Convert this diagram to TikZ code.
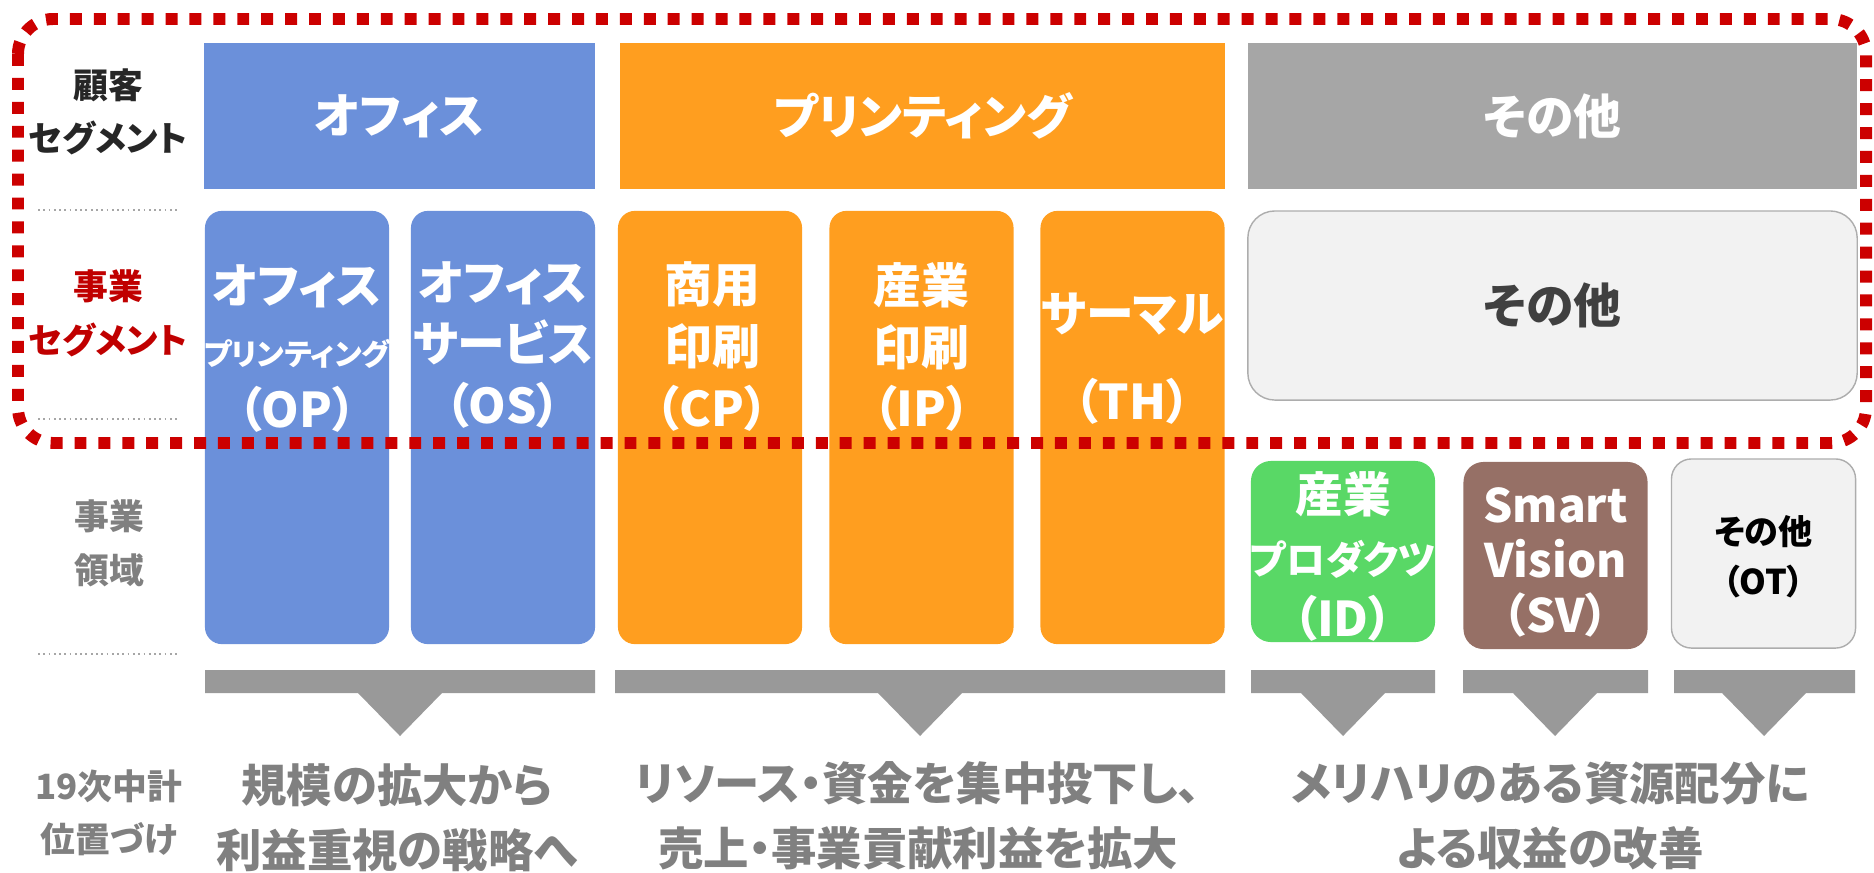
\documentclass[tikz,border=0pt]{standalone}
\usepackage{fontspec}
\setmainfont{Noto Sans CJK JP}[RawFeature=+palt]
\definecolor{officeblue}{HTML}{6B90DA}
\definecolor{printorange}{HTML}{FF9E1F}
\definecolor{othergrey}{HTML}{A6A6A6}
\definecolor{lightfill}{HTML}{F2F2F2}
\definecolor{lightline}{HTML}{ADADAD}
\definecolor{darktext}{HTML}{404040}
\definecolor{idgreen}{HTML}{59D866}
\definecolor{svbrown}{HTML}{967066}
\definecolor{bargrey}{HTML}{999999}
\definecolor{labelgrey}{HTML}{808080}
\definecolor{segred}{HTML}{C00000}
\definecolor{framered}{HTML}{CC0000}
\newcommand\bigfs{\bfseries\fontsize{13.6}{17.5}\selectfont}
\newcommand\smallfs{\bfseries\fontsize{8.5}{17.5}\selectfont}
\newcommand\midfs{\bfseries\fontsize{11.1}{17.5}\selectfont}
\newcommand\labelfs{\bfseries\fontsize{9.9}{15.2}\selectfont}
\newcommand\goalfs{\bfseries\fontsize{12.9}{18.5}\selectfont}

\begin{document}
\begin{tikzpicture}[x=0.01cm, y=-0.01cm]
    \tikzset{%
      custseg/.style={minimum height=1.46cm, inner sep=0pt, text=white, font=\bigfs},
      bizseg/.style={rounded corners=0.17cm, minimum width=1.84cm, minimum height=4.33cm, inner sep=0pt},
      bizarea/.style={rounded corners=0.2cm, minimum width=1.84cm, minimum height=1.85cm, inner sep=0pt},
      segtext/.style={align=center, text=white, font=\bigfs, inner sep=0pt},
      rowlabel/.style={align=center, font=\labelfs, inner sep=0pt},
      goal/.style={align=center, text=labelgrey, font=\goalfs, inner sep=0pt},
      sepline/.style={densely dotted, labelgrey!70, line width=0.5pt},
      wedge/.style={fill=bargrey},
      dotframe/.style={draw=framered, line width=3.4pt, dash pattern=on 3.4pt off 3.4pt, rounded corners=0.35cm}
      }
    \useasboundingbox (0,0) rectangle (1874,872);

    \node [rowlabel, text=black!85] (Lcust) at (108,112) {顧客\\セグメント};
    \node [rowlabel, text=segred] (Lseg) at (108,313.5) {事業\\セグメント};
    \node [rowlabel, text=labelgrey] (Larea) at (109,543.5) {事業\\領域};
    \node [rowlabel, text=labelgrey] (Lplan) at (109,812.5) {19次中計\\位置づけ};
    \foreach \yy in {210, 419, 654}
      \draw [sepline] (38,\yy) -- (179,\yy);

    \node [custseg, fill=officeblue, minimum width=3.91cm] (Coffice) at (399.5,116) {オフィス};
    \node [custseg, fill=printorange, minimum width=6.05cm] (Cprint) at (922.5,116) {プリンティング};
    \node [custseg, fill=othergrey, minimum width=6.09cm] (Cother) at (1552.5,116) {その他};

    \node [bizseg, fill=officeblue] (Bop) at (297,427.5) {};
    \node [segtext] (Top) at (297,348.5) {オフィス\\{\smallfs プリンティング}\\（OP）};
    \node [bizseg, fill=officeblue] (Bos) at (503,427.5) {};
    \node [segtext] (Tos) at (503,345) {オフィス\\サービス\\（OS）};
    \node [bizseg, fill=printorange] (Bcp) at (710,427.5) {};
    \node [segtext] (Tcp) at (712,346.5) {商用\\印刷\\（CP）};
    \node [bizseg, fill=printorange] (Bip) at (921.5,427.5) {};
    \node [segtext] (Tip) at (921.5,347) {産業\\印刷\\（IP）};
    \node [bizseg, fill=printorange] (Bth) at (1132.5,427.5) {};
    \node [segtext] (Tth) at (1132.5,359) {サーマル\\[7.5pt]（TH）};
    \node [bizseg, fill=lightfill, draw=lightline, minimum width=6.09cm, minimum height=1.89cm,
           rounded corners=0.27cm, text=darktext, font=\bigfs] (Bother) at (1552.5,305.5) {その他};

    \node [bizarea, fill=idgreen, minimum height=1.81cm] (Aid) at (1343,551.5) {};
    \node [segtext] (Tid) at (1343,556.5) {産業\\{\midfs プロダクツ}\\（ID）};
    \node [bizarea, fill=svbrown, minimum height=1.87cm] (Asv) at (1555.5,555.5) {};
    \node [segtext, font=\bfseries\fontsize{13.1}{15.6}\selectfont] (Tsv) at (1555.5,562.5) {Smart\\Vision\\（SV）};
    \node [bizarea, fill=lightfill, draw=lightline, minimum height=1.89cm] (Aot) at (1763.5,553.5) {};
    \node [segtext, text=black, font=\bfseries\fontsize{9.7}{14.2}\selectfont] (Tot) at (1763.5,557) {その他\\（OT）};

    \foreach \xa/\xb/\xc in {205/595/400, 615/1225/920, 1251/1435/1343, 1463/1648/1555, 1674/1855/1764}
      \fill [wedge] (\xa,670) -- (\xb,670) -- (\xb,693) -- (\xc+42,693) -- (\xc,736) -- (\xc-42,693) -- (\xa,693) -- cycle;

    \node [goal] (Goffice) at (397,817.5) {規模の拡大から\\利益重視の戦略へ};
    \node [goal] (Gprint) at (918,816) {リソース・資金を集中投下し、\\売上・事業貢献利益を拡大};
    \node [goal] (Gother) at (1550,816) {メリハリのある資源配分に\\よる収益の改善};

    \draw [dotframe] (18,19) rectangle (1866,443);
  \end{tikzpicture}
\end{document}
